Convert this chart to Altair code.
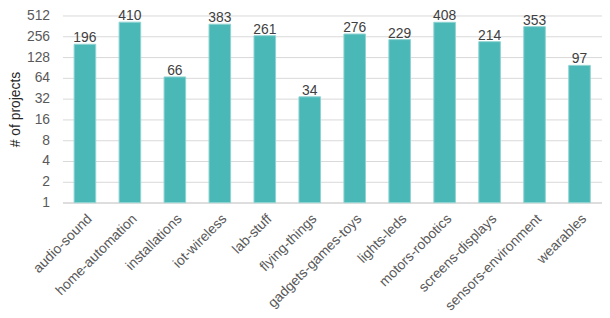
import altair as alt
import pandas as pd

categories = ["audio-sound", "home-automation", "installations", "iot-wireless", "lab-stuff",
              "flying-things", "gadgets-games-toys", "lights-leds", "motors-robotics",
              "screens-displays", "sensors-environment", "wearables"]
counts = [196, 410, 66, 383, 261, 34, 276, 229, 408, 214, 353, 97]
y_ticks = [1, 2, 4, 8, 16, 32, 64, 128, 256, 512]

df = pd.DataFrame({"category": categories, "count": counts})

FONT = "Liberation Sans"

x = alt.X("category:N", sort=categories, title=None,
          scale=alt.Scale(paddingInner=0.52, paddingOuter=0.26),
          axis=alt.Axis(labelAngle=-45, labelFontSize=14, labelColor="#595959",
                        labelFont=FONT, ticks=False, domainColor="#D9D9D9",
                        domainWidth=1.5, labelPadding=9))
y = alt.Y("count:Q", title="# of projects",
          scale=alt.Scale(type="log", base=2, domain=[1, 512], nice=False),
          axis=alt.Axis(values=y_ticks, labelFontSize=14, labelColor="#595959",
                        labelFont=FONT, ticks=False, domain=False,
                        gridColor="#D9D9D9", gridWidth=1, labelPadding=13,
                        titleFont=FONT, titleFontSize=14, titleFontWeight="normal",
                        titleColor="#262626", titlePadding=4))

base = alt.Chart(df)
bars = base.mark_bar(color="#4BB8B8", stroke="#8FD3D1", strokeWidth=1).encode(
    x=x, y=y, y2=alt.datum(1))
labels = base.mark_text(dy=-2, baseline="alphabetic", fontSize=14, color="#404040",
                        font=FONT).encode(x=x, y=y, text="count:Q")

chart = (bars + labels).properties(
    width=545, height=189, autosize=alt.AutoSizeParams(type="none"),
    padding={"left": 55, "top": 6, "right": 0, "bottom": 114}
).configure_view(stroke=None).configure_axisY(labelAlign="right")

chart.save("out.html", embed_options={"renderer": "svg", "actions": False})
